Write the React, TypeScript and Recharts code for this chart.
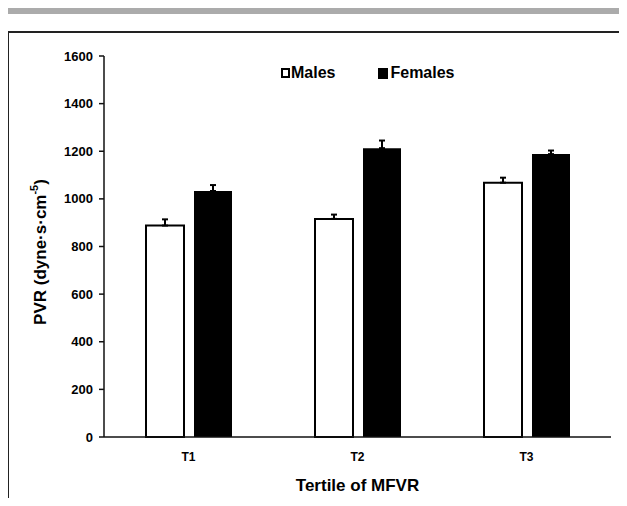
import React from 'react';
import { BarChart, Bar, XAxis, YAxis, ErrorBar } from 'recharts';

const tertiles = ['T1', 'T2', 'T3'];
const malesPvr = [888, 916, 1068];
const femalesPvr = [1033, 1213, 1188];
const malesSem = [26, 18, 21];
const femalesSem = [25, 32, 15];
const yTicks = [0, 200, 400, 600, 800, 1000, 1200, 1400, 1600];

// only the upper half of each error bar is drawn in the figure
const data = tertiles.map((t, i) => ({
  tertile: t,
  males: malesPvr[i],
  females: femalesPvr[i],
  malesErr: [0, malesSem[i]],
  femalesErr: [0, femalesSem[i]],
}));

const font = '"Liberation Sans", Arial, sans-serif';

const YLabel = () => (
  <text
    x={40}
    y={252}
    transform="rotate(-90 40 252)"
    textAnchor="middle"
    dominantBaseline="central"
    fontFamily={font}
    fontWeight="bold"
    fontSize={17}
    fill="#000"
  >
    PVR (dyne·s·cm
    <tspan fontSize={11} dy={-6}>-5</tspan>
    <tspan dy={6}>)</tspan>
  </text>
);

const LegendBox = () => (
  <div
    style={{
      position: 'absolute',
      left: 281,
      top: 64,
      display: 'flex',
      alignItems: 'center',
      fontFamily: font,
      fontWeight: 'bold',
      fontSize: 16,
      color: '#000',
      lineHeight: '18px',
    }}
  >
    <span style={{ width: 9, height: 10, border: '2px solid #000', boxSizing: 'border-box', marginRight: 1 }} />
    <span>Males</span>
    <span style={{ width: 10, height: 11, background: '#000', marginLeft: 43, marginRight: 2 }} />
    <span>Females</span>
  </div>
);

export default function App() {
  return (
    <div style={{ position: 'relative', width: 627, height: 506, margin: -8, background: '#fff', overflow: 'hidden' }}>
      <div style={{ position: 'absolute', left: 7, top: 8, width: 620, height: 6, background: '#ababab' }} />
      <div style={{ position: 'absolute', left: 7, top: 31, width: 620, height: 2, background: '#222' }} />
      <div style={{ position: 'absolute', left: 7, top: 31, width: 2, height: 475, background: '#222' }} />
      <div style={{ position: 'absolute', left: 0, top: 0 }}>
        <BarChart
          width={627}
          height={506}
          data={data}
          margin={{ top: 56, right: 16, left: 0, bottom: 0 }}
          barSize={38}
          barGap={10}
        >
          <XAxis
            dataKey="tertile"
            height={69}
            axisLine={{ stroke: '#111', strokeWidth: 1.5 }}
            tickLine={false}
            tickSize={6}
            tickMargin={9}
            tick={{ fill: '#000', fontSize: 12, fontWeight: 'bold', fontFamily: font }}
            label={{
              value: 'Tertile of MFVR',
              position: 'insideBottom',
              offset: 15,
              style: { fill: '#000', fontSize: 17, fontWeight: 'bold', fontFamily: font },
            }}
          />
          <YAxis
            width={104}
            domain={[0, 1600]}
            ticks={yTicks}
            interval={0}
            axisLine={{ stroke: '#111', strokeWidth: 1.5 }}
            tickLine={{ stroke: '#111', strokeWidth: 1.5 }}
            tickSize={5}
            tickMargin={6}
            tick={{ fill: '#000', fontSize: 13, fontWeight: 'bold', fontFamily: font }}
            label={{ content: () => <YLabel /> }}
          />
          <Bar dataKey="males" name="Males" fill="#fff" stroke="#000" strokeWidth={2} isAnimationActive={false}>
            <ErrorBar dataKey="malesErr" direction="y" width={3} stroke="#000" strokeWidth={2} isAnimationActive={false} />
          </Bar>
          <Bar dataKey="females" name="Females" fill="#000" isAnimationActive={false}>
            <ErrorBar dataKey="femalesErr" direction="y" width={3} stroke="#000" strokeWidth={2} isAnimationActive={false} />
          </Bar>
        </BarChart>
      </div>
      <LegendBox />
    </div>
  );
}
